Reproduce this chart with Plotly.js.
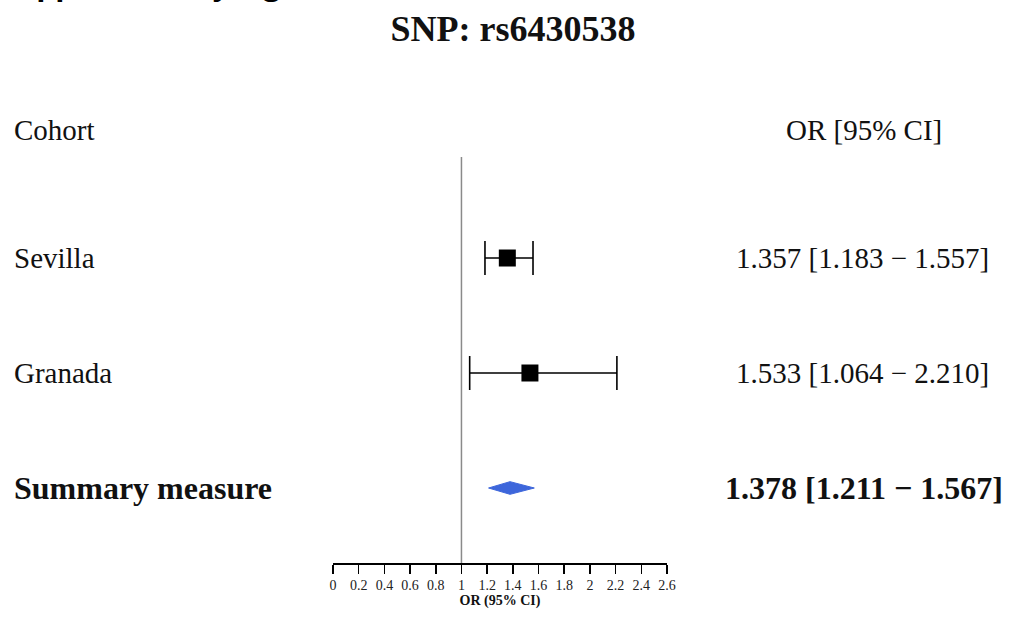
<!DOCTYPE html>
<html>
<head>
<meta charset="utf-8">
<script src="https://cdn.plot.ly/plotly-3.0.1.min.js"></script>
<style>html,body{margin:0;padding:0;background:#fff;}#chart{width:1013px;height:619px;}</style>
</head>
<body>
<div id="chart"></div>
<script>
// ---- data ----
const cohorts = ["Sevilla", "Granada"];
const orValues = [1.357, 1.533];
const ciLower = [1.183, 1.064];
const ciUpper = [1.557, 2.210];
const summaryLabel = "Summary measure";
const summaryOR = 1.378;
const summaryLower = 1.211;
const summaryUpper = 1.567;
const tickValues = [0, 0.2, 0.4, 0.6, 0.8, 1, 1.2, 1.4, 1.6, 1.8, 2, 2.2, 2.4, 2.6];
const tickLabels = ["0", "0.2", "0.4", "0.6", "0.8", "1", "1.2", "1.4", "1.6", "1.8", "2", "2.2", "2.4", "2.6"];

// ---- layout helpers ----
const W = 1013, H = 619;
const M = {l: 333, r: 346, t: 100, b: 56};
const plotW = W - M.l - M.r;
const pxToPaperX = px => (px - M.l) / plotW;
const rowsY = [3, 2];          // row positions for cohorts
const summaryY = 1;
const headerY = 4.113;
const yRange = [0.3478, 4.374];
const serif = "Liberation Serif, Times New Roman, serif";
const fmt = (e, l, u) => e.toFixed(3) + " [" + l.toFixed(3) + " \u2212 " + u.toFixed(3) + "]";

const traces = [];
// cohort estimates
traces.push({
  type: "scatter", mode: "markers",
  x: orValues, y: rowsY,
  marker: {symbol: "square", size: 17, color: "#000"},
  error_x: {
    type: "data", symmetric: false,
    array: orValues.map((v, i) => ciUpper[i] - v),
    arrayminus: orValues.map((v, i) => v - ciLower[i]),
    color: "#000", thickness: 1.6, width: 17
  },
  hoverinfo: "skip", showlegend: false
});
// summary diamond
const dh = 0.055;
traces.push({
  type: "scatter", mode: "lines",
  x: [summaryLower, summaryOR, summaryUpper, summaryOR, summaryLower],
  y: [summaryY, summaryY + dh, summaryY, summaryY - dh, summaryY],
  fill: "toself", fillcolor: "#3d66db",
  line: {color: "#3d66db", width: 1},
  hoverinfo: "skip", showlegend: false
});

const annotations = [];
const addText = (txt, xpx, y, anchor, size, bold) => annotations.push({
  text: bold ? "<b>" + txt + "</b>" : txt,
  xref: "paper", yref: "y", x: pxToPaperX(xpx), y: y,
  xanchor: anchor, yanchor: "middle", showarrow: false,
  font: {family: serif, size: size, color: "#111"}
});
addText("Cohort", 12, headerY, "left", 29, false);
addText("OR [95% CI]", 864, headerY, "center", 29, false);
cohorts.forEach((c, i) => {
  addText(c, 12, rowsY[i], "left", 29, false);
  addText(fmt(orValues[i], ciLower[i], ciUpper[i]), 862, rowsY[i], "center", 29, false);
});
addText(summaryLabel, 12, summaryY, "left", 32, true);
addText(fmt(summaryOR, summaryLower, summaryUpper), 864, summaryY, "center", 32, true);
// cropped caption at the very top-left
annotations.push({
  text: "<b>Supplementary Figure</b>",
  xref: "paper", yref: "paper", x: pxToPaperX(-2), y: 1 + (M.t - 6) / (H - M.t - M.b),
  xanchor: "left", yanchor: "bottom", showarrow: false,
  font: {family: "Open Sans, Liberation Sans, sans-serif", size: 30, color: "#000"}
});

const layout = {
  width: W, height: H,
  margin: M,
  paper_bgcolor: "#fff", plot_bgcolor: "#fff",
  title: {
    text: "<b>SNP: rs6430538</b>",
    font: {family: serif, size: 36, color: "#111"},
    x: 513 / W, xanchor: "center",
    y: 1 - 28 / H, yanchor: "middle", xref: "container", yref: "container"
  },
  xaxis: {
    range: [0, 2.6],
    tickmode: "array", tickvals: tickValues, ticktext: tickLabels,
    ticks: "outside", ticklen: 9, tickwidth: 1.5, tickcolor: "#000",
    showline: true, linecolor: "#000", linewidth: 1.5,
    showgrid: false, zeroline: false,
    tickfont: {family: serif, size: 14, color: "#222"},
    title: {text: "<b>OR (95% CI)</b>", font: {family: serif, size: 14, color: "#111"}, standoff: 1},
    fixedrange: true
  },
  yaxis: {
    range: yRange, visible: false, showgrid: false, zeroline: false, fixedrange: true
  },
  shapes: [{
    type: "line", xref: "x", yref: "y",
    x0: 1, x1: 1, y0: yRange[0], y1: 3.878,
    line: {color: "#8a8a8a", width: 1.5}
  }],
  annotations: annotations
};

Plotly.newPlot("chart", traces, layout, {displayModeBar: false, staticPlot: true});
</script>
</body>
</html>
